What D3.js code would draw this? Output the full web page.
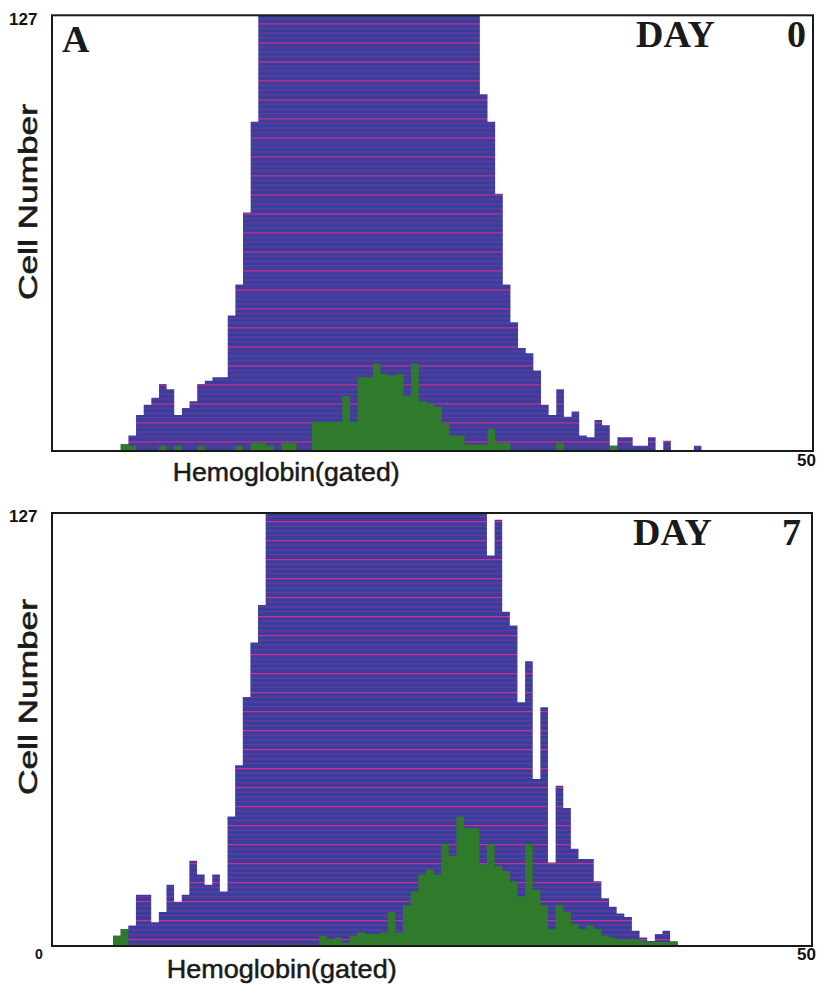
<!DOCTYPE html>
<html><head><meta charset="utf-8">
<script src="https://cdn.jsdelivr.net/npm/d3@7"></script>
<style>html,body{margin:0;padding:0;background:#fff}</style>
</head><body>
<svg id="chart" width="818" height="989"></svg>
<script>
// ---- data (channel counts) ----
const firstChannel = 8;           // first histogram channel listed below
const channelSpan = 99.6;         // channels spanned by the frame width
const yMaxLabel = "127";
const xMaxLabel = "50";
const yZeroLabel = "0";
const xAxisTitle = "Hemoglobin(gated)";
const yAxisTitle = "Cell Number";
const panelLetters = ["A", ""];
const dayWord = "DAY";
const dayNumbers = ["0", "7"];
const yMax = 127;

const day0Total = [0,2,4.5,10.5,13.5,15.5,19.5,18,10.5,12.5,14.5,19.5,20.5,21.5,21.5,39.5,48.5,69.5,96,
  127,127,127,127,127,127,127,127,127,127,127,127,127,127,127,127,127,127,127,127,127,127,127,127,127,127,127,127,127,
  104,96,75,48.5,37.5,30,28.5,23.5,13.5,10.5,18,10,11.5,4.5,4,9,7.5,1.5,4,4,1.5,1.5,4,0,3,0,0,0,1.5,0];
const day0Gated = [0,2,1.5,0,0,0,1.5,0,1.5,0,0,1.5,0,0,0,0,1.5,0,2.5,2.5,1.5,0,2.5,2.5,0,0,
  8.5,8.5,8.5,8.5,16,8.5,21.5,21.5,25.5,22.5,22,22.5,16,25.5,14.5,14,13,8,4.5,4.5,2,2,2,6.5,2.5,2.5,
  0,0,0,0,0,0,2.5,0,0,0,0,0,0,1.5,0,0,0,0,0,0,0,0,0,0,0,0];
const day7Total = [3,5,6,15,15,7,10,18,13,15,25,21,18,21,16,38,53,73,89,100,
  127,127,127,127,127,127,127,127,127,127,127,127,127,127,127,127,127,127,127,127,127,127,127,127,127,127,127,127,127,
  114.5,125,98,94,71.5,83.5,49,70,24.5,47,40.5,28.5,25.5,25.5,19,14,11.5,9.5,8.5,4.5,2.5,1.5,3.5,4.5,1.3,0,0,0,0];
const day7Gated = [3,5,0,0,0,0,0,0,0,0,0,0,0,0,0,0,0,0,0,0,0,0,0,0,0,0,0,
  3,2,2.5,1,3,4,3.5,3.5,4,10,4,12,16,21,22.5,21,30,26.5,38,34.5,34.5,24,30,23.5,22,19,14.5,30,16.5,12,5,12,10,6.5,5,6,5,3,2.5,2,2,2,1.5,1.2,1.2,1.2,1.3,
  0,0,0,0];

// ---- layout ----
const panels = [
  {total: day0Total, gated: day0Gated, left: 52, right: 813, top: 15.3, bottom: 451,
   letter: panelLetters[0], day: dayNumbers[0], dayX: 636, numX: 787, titleY: 46.7,
   yLabY: 24.5, xMaxY: 466, zero: false, xtX: 172.7, xtY: 481, xtLen: 227, ytY: 202, stripePhase: 23.3},
  {total: day7Total, gated: day7Gated, left: 52, right: 812, top: 513, bottom: 946,
   letter: panelLetters[1], day: dayNumbers[1], dayX: 633, numX: 782, titleY: 545,
   yLabY: 522, xMaxY: 960, zero: true, xtX: 166.7, xtY: 978, xtLen: 230, ytY: 697, stripePhase: 521}
];

const svg = d3.select("#chart");
const defs = svg.append("defs");
const blue = "#3a3d9c";
const green = "#2f7a2b";
const sans = "Liberation Sans, Arial, sans-serif";
const serif = "Liberation Serif, Times New Roman, serif";

panels.forEach((p, pi) => {
  // scan-line pattern for the total histogram
  const pat = defs.append("pattern").attr("id", "scan" + pi)
    .attr("patternUnits", "userSpaceOnUse").attr("width", 8).attr("height", 19)
    .attr("patternTransform", `translate(0,${p.stripePhase % 19})`);
  pat.append("rect").attr("width", 8).attr("height", 19).attr("fill", blue);
  [4.75, 9.5, 14.25].forEach(o => pat.append("rect").attr("x", 0).attr("y", o).attr("width", 8).attr("height", 0.8)
      .attr("fill", "#b83a9a").attr("opacity", 0.5));
  pat.append("rect").attr("x", 0).attr("y", 0).attr("width", 8).attr("height", 1.2)
      .attr("fill", "#ea2a86").attr("opacity", 0.9);

  defs.append("clipPath").attr("id", "clip" + pi).append("rect")
    .attr("x", p.left).attr("y", p.top).attr("width", p.right - p.left).attr("height", p.bottom - p.top);

  const x = d3.scaleLinear().domain([0, channelSpan]).range([p.left, p.right]);
  const y = d3.scaleLinear().domain([0, yMax]).range([p.bottom, p.top]).clamp(true);

  const toPts = arr => {
    const pts = arr.map((v, i) => ({ch: firstChannel + i, v}));
    pts.push({ch: firstChannel + arr.length, v: 0});
    return pts;
  };
  const area = d3.area().x(d => x(d.ch)).y0(y(0)).y1(d => y(d.v)).curve(d3.curveStepAfter);

  const g = svg.append("g").attr("clip-path", `url(#clip${pi})`);
  g.append("path").datum(toPts(p.total)).attr("d", area).attr("fill", `url(#scan${pi})`);
  g.append("path").datum(toPts(p.gated)).attr("d", area).attr("fill", green);

  // frame
  svg.append("rect").attr("x", p.left).attr("y", p.top).attr("width", p.right - p.left).attr("height", p.bottom - p.top)
    .attr("fill", "none").attr("stroke", "#1a1a1a").attr("stroke-width", 2);

  // axis numbers
  svg.append("text").attr("x", 9).attr("y", p.yLabY).text(yMaxLabel)
    .attr("font-family", sans).attr("font-weight", "bold").attr("font-size", 17).attr("fill", "#111");
  svg.append("text").attr("x", 816).attr("y", p.xMaxY).attr("text-anchor", "end").text(xMaxLabel)
    .attr("font-family", sans).attr("font-weight", "bold").attr("font-size", 17).attr("fill", "#111");
  if (p.zero) {
    svg.append("text").attr("x", 35).attr("y", p.bottom + 12.5).text(yZeroLabel)
      .attr("font-family", sans).attr("font-weight", "bold").attr("font-size", 14).attr("fill", "#111");
  }

  // axis titles
  svg.append("text").attr("x", p.xtX).attr("y", p.xtY).text(xAxisTitle)
    .attr("textLength", p.xtLen).attr("lengthAdjust", "spacingAndGlyphs")
    .attr("font-family", sans).attr("font-size", 26).attr("fill", "#1a1a1a")
    .attr("stroke", "#1a1a1a").attr("stroke-width", 0.5);
  svg.append("text").attr("transform", `translate(37,${p.ytY}) rotate(-90)`).attr("text-anchor", "middle")
    .text(yAxisTitle).attr("textLength", 196).attr("lengthAdjust", "spacingAndGlyphs")
    .attr("font-family", sans).attr("font-size", 26).attr("fill", "#1a1a1a")
    .attr("stroke", "#1a1a1a").attr("stroke-width", 0.6);

  // panel titles
  if (p.letter) {
    svg.append("text").attr("x", 62).attr("y", 51.7).text(p.letter)
      .attr("font-family", serif).attr("font-weight", "bold").attr("font-size", 38).attr("fill", "#1a1a1a");
  }
  svg.append("text").attr("x", p.dayX).attr("y", p.titleY).text(dayWord)
    .attr("font-family", serif).attr("font-weight", "bold").attr("font-size", 38).attr("fill", "#1a1a1a");
  svg.append("text").attr("x", p.numX).attr("y", p.titleY).text(p.day)
    .attr("font-family", serif).attr("font-weight", "bold").attr("font-size", 38).attr("fill", "#1a1a1a");
});
</script>
</body></html>
